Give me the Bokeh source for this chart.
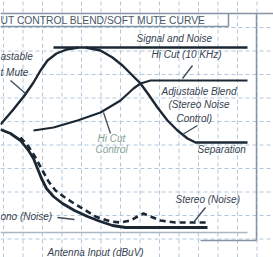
from bokeh.plotting import figure
from bokeh.models import Range1d
from bokeh.core.properties import value
from bokeh.embed import file_html
from bokeh.resources import INLINE

# Curve data: x = antenna input (chart units), y = output level (chart units)
mute_x = [0, 12, 24, 33, 40, 47, 56, 66, 78]
mute_y = [133, 147, 162, 175, 187, 197, 204, 208, 210]

signal_x = [53, 247]
signal_y = [210, 210]

sep_x = [85, 100, 112, 122, 132, 140, 148, 157, 167, 177, 187, 195, 247]
sep_y = [210, 207, 200, 192, 182, 174, 163, 150, 137, 127, 119, 115, 115]

hicut_x = [33, 53, 77, 100, 120, 133, 140, 150, 247]
hicut_y = [127, 130, 137, 145, 157, 169, 174, 177, 177]

mono_x = [0, 10, 20, 28, 33, 37, 41, 46, 53, 62, 74, 87, 100, 112, 125, 207]
mono_y = [128, 124, 117, 107, 99, 89, 79, 69, 61, 54, 47, 41, 36, 32, 30, 30]

stereo_x = [20, 28, 35, 42, 48, 55, 63, 72, 82, 95, 110, 120, 130, 137, 143, 150, 160, 175, 207]
stereo_y = [120, 111, 100, 87, 76, 67, 61, 55, 49, 41, 36, 35, 37, 41, 44, 41, 37, 35, 35]

title = "UT CONTROL BLEND/SOFT MUTE CURVE"
labels = ["Signal and Noise", "Hi Cut (10 KHz)", "Adjustable Blend", "(Stereo Noise",
          "Control)", "Separation", "astable", "t Mute", "ono (Noise)", "Stereo (Noise)"]
green_labels = ["Hi Cut", "Control"]
xlabel = "Antenna Input (dBuV)"

INK = "#1b2733"
TXT = "#364250"
GRID = "#b2c7dc"

p = figure(width=273, height=257, output_backend="svg", toolbar_location=None,
           x_range=Range1d(0, 273), y_range=Range1d(0, 257),
           x_axis_type=None, y_axis_type=None, min_border=0)
p.outline_line_color = None
p.background_fill_color = "white"
p.border_fill_color = "white"
p.xgrid.visible = False
p.ygrid.visible = False

# graph-paper grid
gx = [3 + 19.5 * k for k in range(14)]
p.segment(x0=gx, y0=[0] * len(gx), x1=gx, y1=[257] * len(gx),
          line_color=GRID, line_width=1, line_dash="4 3")
gy = [230 - 23.5 * k for k in range(10)]
p.segment(x0=[0] * len(gy), y0=gy, x1=[273] * len(gy), y1=gy,
          line_color=GRID, line_width=1, line_dash="4 3")

# frame
fc = "#8494a5"
p.segment(x0=[0, 0, 228, 256, 200], y0=[244, 231, 231, 17, 17],
          x1=[273, 228, 228, 256, 256], y1=[244, 231, 244, 244, 17],
          line_color=fc, line_width=1.5)
p.segment(x0=[0], y0=[25], x1=[247], y1=[25], line_color="#a9b6c4", line_width=1.5)

# curves
p.line(mute_x, mute_y, line_color=INK, line_width=2.4)
p.line(signal_x, signal_y, line_color=INK, line_width=2.4)
p.line(sep_x, sep_y, line_color=INK, line_width=2.4)
p.line(hicut_x, hicut_y, line_color=INK, line_width=2.2)
p.line(mono_x, mono_y, line_color=INK, line_width=2.8)
p.line(stereo_x, stereo_y, line_color=INK, line_width=2.6, line_dash="6 4")

# leader lines
p.segment(x0=[10, 192, 197, 110, 57, 205], y0=[177, 192, 132, 124, 40, 50],
          x1=[25, 182, 182, 103, 74, 193], y1=[164, 179, 123, 145, 38, 35],
          line_color="#3a4a58", line_width=1.3)

# texts
p.text(x=[0], y=[237], text=[title], text_font=value("Liberation Sans"),
       text_font_size="10.3px", text_color="#4a5866", text_baseline="middle")

lx = [136, 151, 161, 168, 176, 197, 0, 0, 0, 175]
ly = [219, 203, 166, 153, 139, 108, 201, 185, 41, 58]
p.text(x=lx, y=ly, text=labels, text_font=value("Liberation Sans"),
       text_font_style="italic", text_font_size="10px", text_color=TXT,
       text_baseline="middle")
p.text(x=[97, 95], y=[119, 108], text=green_labels, text_font=value("Liberation Sans"),
       text_font_style="italic", text_font_size="10px", text_color="#86a296",
       text_baseline="middle")
p.text(x=[47], y=[5], text=[xlabel], text_font=value("Liberation Sans"),
       text_font_style="italic", text_font_size="10px", text_color=TXT,
       text_baseline="middle")

open("out.html", "w").write(file_html(p, INLINE))
